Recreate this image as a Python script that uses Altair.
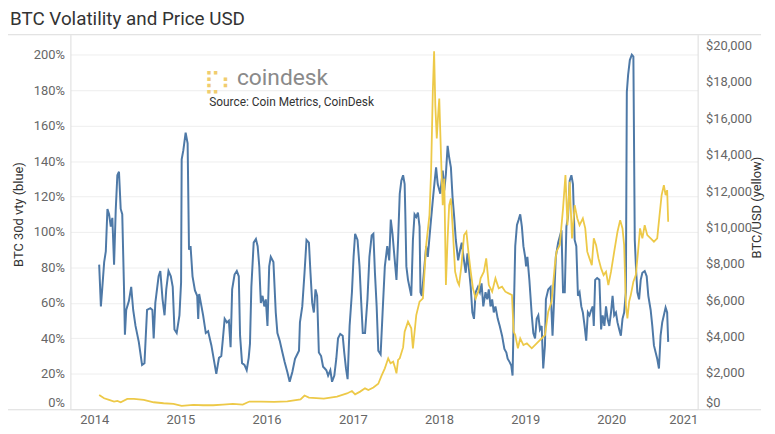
import altair as alt
import pandas as pd

# ---- data (decimal years) ----
vol_years = [2014.057, 2014.077, 2014.092, 2014.115, 2014.134, 2014.153, 2014.172, 2014.192, 2014.210, 2014.230,
             2014.249, 2014.268, 2014.287, 2014.307, 2014.325, 2014.345, 2014.356, 2014.371, 2014.402, 2014.429,
             2014.452, 2014.479, 2014.517, 2014.555, 2014.583, 2014.613, 2014.652, 2014.675, 2014.690, 2014.709,
             2014.747, 2014.767, 2014.793, 2014.816, 2014.836, 2014.862, 2014.889, 2014.911, 2014.931, 2014.957,
             2014.989, 2015.008, 2015.015, 2015.034, 2015.061, 2015.084, 2015.100, 2015.118, 2015.141, 2015.169,
             2015.195, 2015.207, 2015.218, 2015.245, 2015.264, 2015.295, 2015.322, 2015.360, 2015.399, 2015.417,
             2015.448, 2015.475, 2015.494, 2015.514, 2015.540, 2015.563, 2015.583, 2015.601, 2015.629, 2015.655,
             2015.678, 2015.693, 2015.716, 2015.744, 2015.770, 2015.793, 2015.808, 2015.824, 2015.851, 2015.877,
             2015.897, 2015.916, 2015.934, 2015.954, 2015.974, 2015.992, 2016.011, 2016.031, 2016.049, 2016.080,
             2016.107, 2016.126, 2016.153, 2016.184, 2016.210, 2016.241, 2016.268, 2016.299, 2016.330, 2016.356,
             2016.376, 2016.387, 2016.414, 2016.440, 2016.463, 2016.491, 2016.509, 2016.529, 2016.548, 2016.567,
             2016.586, 2016.606, 2016.632, 2016.655, 2016.675, 2016.693, 2016.713, 2016.739, 2016.759, 2016.785,
             2016.808, 2016.828, 2016.854, 2016.882, 2016.900, 2016.920, 2016.939, 2016.962, 2016.989, 2017.008,
             2017.026, 2017.054, 2017.077, 2017.095, 2017.115, 2017.141, 2017.169, 2017.192, 2017.218, 2017.238,
             2017.256, 2017.276, 2017.295, 2017.322, 2017.345, 2017.371, 2017.399, 2017.422, 2017.440, 2017.460,
             2017.479, 2017.506, 2017.525, 2017.544, 2017.563, 2017.583, 2017.601, 2017.609, 2017.621, 2017.640,
             2017.659, 2017.678, 2017.697, 2017.716, 2017.736, 2017.755, 2017.774, 2017.785, 2017.801, 2017.824,
             2017.851, 2017.870, 2017.900, 2017.928, 2017.946, 2017.966, 2017.985, 2018.015, 2018.043, 2018.061,
             2018.080, 2018.100, 2018.118, 2018.138, 2018.157, 2018.176, 2018.195, 2018.222, 2018.245, 2018.264,
             2018.284, 2018.310, 2018.330, 2018.348, 2018.368, 2018.387, 2018.406, 2018.425, 2018.452, 2018.475,
             2018.494, 2018.514, 2018.540, 2018.560, 2018.578, 2018.598, 2018.617, 2018.636, 2018.655, 2018.682,
             2018.705, 2018.732, 2018.759, 2018.782, 2018.797, 2018.820, 2018.839, 2018.854, 2018.866, 2018.885,
             2018.905, 2018.923, 2018.943, 2018.962, 2018.980, 2019.000, 2019.011, 2019.026, 2019.049, 2019.077,
             2019.095, 2019.115, 2019.134, 2019.153, 2019.172, 2019.192, 2019.210, 2019.230, 2019.241, 2019.268,
             2019.295, 2019.318, 2019.333, 2019.356, 2019.383, 2019.422, 2019.440, 2019.460, 2019.479, 2019.498,
             2019.517, 2019.537, 2019.555, 2019.575, 2019.594, 2019.613, 2019.632, 2019.652, 2019.670, 2019.690,
             2019.709, 2019.728, 2019.747, 2019.767, 2019.785, 2019.797, 2019.813, 2019.836, 2019.862, 2019.882,
             2019.900, 2019.920, 2019.939, 2019.957, 2019.977, 2019.997, 2020.015, 2020.034, 2020.054, 2020.072,
             2020.092, 2020.111, 2020.130, 2020.149, 2020.169, 2020.180, 2020.195, 2020.215, 2020.238, 2020.256,
             2020.272, 2020.287, 2020.302, 2020.322, 2020.341, 2020.360, 2020.387, 2020.410, 2020.429, 2020.456,
             2020.475, 2020.494, 2020.514, 2020.532, 2020.552, 2020.571, 2020.590, 2020.609, 2020.629, 2020.647,
             2020.659]
vol_pct = [81.6, 58, 67.6, 83, 89, 113, 110, 103, 108, 81.6,
           112, 132, 134, 113, 110, 69, 42, 56, 61, 69,
           56, 47, 38, 25, 26, 56, 57, 56, 40, 60,
           75, 78, 62, 53, 67.6, 78, 75, 69, 45, 43,
           53, 71.5, 141, 146, 156, 150, 90, 92, 75, 67,
           64, 51, 65, 58, 53, 43, 44, 36, 25, 20,
           29, 30, 40, 51, 49, 50, 35, 67.6, 76, 78,
           75, 41.5, 26, 25, 22, 29, 37, 69, 94, 96,
           92, 80.6, 60, 64, 58, 62, 47, 80.6, 86, 83,
           54.6, 43, 38.7, 32, 26.6, 21, 15.5, 21, 28.5, 31,
           33, 49, 58, 77, 95.5, 94, 77, 60, 54.6, 67.6,
           64, 32, 30, 24, 23, 22, 19, 22, 15.5, 19,
           28.5, 40, 42.5, 41.5, 32, 23, 17, 47, 66, 86,
           99, 95.5, 80.6, 62, 43, 43, 62, 86, 98, 99,
           77, 58, 33, 31, 54.6, 80.6, 92, 84, 107, 99,
           88, 73, 95.5, 121.6, 129, 132, 127, 110, 80.6, 73,
           68.5, 64, 95.5, 110, 108.5, 111, 103, 66, 64, 77,
           92, 86, 103, 118, 127, 136.5, 127, 121.6, 134.6, 123.5,
           132.8, 148.6, 142, 136.5, 119.7, 108.5, 95.5, 84, 90, 94,
           86, 77, 88, 79, 69, 54.6, 51, 66, 69, 66,
           71, 58, 66, 62, 67.6, 58, 62, 54.6, 58, 51,
           47, 41.5, 34, 32, 28.5, 26.6, 24.7, 19, 49, 92,
           104, 106.7, 110, 103, 92, 86, 80.6, 86, 73, 53,
           43, 40, 51, 53, 45, 47, 23, 36, 62, 67.6,
           69, 41.5, 58, 86, 94, 101, 66, 66, 103, 108.5,
           129, 132, 127, 95.5, 92, 64, 66, 58, 54.6, 47,
           38.7, 54.6, 53, 56, 58, 47, 73, 74, 73, 45,
           53, 47, 58, 51, 47, 54.6, 64, 53, 54.6, 49,
           45, 41.5, 51, 54.6, 66, 179, 188.6, 197, 200, 199,
           95.5, 79, 66, 62, 73, 77, 78, 75, 64, 56,
           47, 36, 32, 28.5, 23, 41.5, 49, 53, 57.4, 54.6,
           38]

price_years = [2014.057, 2014.115, 2014.172, 2014.230, 2014.268, 2014.307, 2014.383, 2014.460, 2014.575, 2014.690,
               2014.805, 2014.920, 2015.015, 2015.149, 2015.264, 2015.379, 2015.494, 2015.609, 2015.724, 2015.801,
               2015.934, 2016.088, 2016.241, 2016.394, 2016.440, 2016.491, 2016.663, 2016.816, 2016.931, 2016.989,
               2017.026, 2017.084, 2017.141, 2017.180, 2017.238, 2017.295, 2017.333, 2017.371, 2017.410, 2017.437,
               2017.468, 2017.486, 2017.506, 2017.525, 2017.544, 2017.583, 2017.601, 2017.640, 2017.678, 2017.697,
               2017.736, 2017.774, 2017.813, 2017.851, 2017.889, 2017.908, 2017.928, 2017.943, 2017.957, 2017.974,
               2017.992, 2018.003, 2018.023, 2018.043, 2018.061, 2018.080, 2018.100, 2018.118, 2018.138, 2018.157,
               2018.187, 2018.215, 2018.233, 2018.261, 2018.291, 2018.318, 2018.341, 2018.368, 2018.394, 2018.425,
               2018.456, 2018.483, 2018.521, 2018.548, 2018.578, 2018.617, 2018.655, 2018.693, 2018.732, 2018.770,
               2018.808, 2018.847, 2018.866, 2018.885, 2018.916, 2018.943, 2018.980, 2019.020, 2019.077, 2019.134,
               2019.192, 2019.230, 2019.268, 2019.307, 2019.345, 2019.364, 2019.402, 2019.440, 2019.468, 2019.491,
               2019.517, 2019.544, 2019.575, 2019.606, 2019.632, 2019.670, 2019.698, 2019.721, 2019.747, 2019.774,
               2019.797, 2019.824, 2019.851, 2019.882, 2019.911, 2019.939, 2019.966, 2019.997, 2020.034, 2020.072,
               2020.103, 2020.130, 2020.149, 2020.169, 2020.187, 2020.207, 2020.226, 2020.256, 2020.284, 2020.310,
               2020.333, 2020.360, 2020.387, 2020.417, 2020.456, 2020.494, 2020.532, 2020.559, 2020.583, 2020.609,
               2020.629, 2020.647, 2020.659]
price_usd = [786, 604, 511, 423, 456, 385, 566, 566, 520, 385,
             330, 300, 181, 236, 220, 220, 258, 291, 260, 423,
             423, 400, 430, 540, 753, 640, 580, 700, 870, 1000,
             820, 970, 1150, 1060, 1200, 1400, 1850, 2250, 2800, 2527,
             2619, 2344, 1978, 2710, 2800, 3400, 4270, 4819, 4451, 3352,
             5182, 5918, 6100, 9028, 10677, 13062, 17458, 19689, 16722, 14892,
             16359, 17089, 13974, 11226, 12693, 6830, 9396, 11226, 11594, 10127,
             7566, 7017, 6830, 7929, 9578, 9765, 8666, 7566, 6649, 6100,
             6467, 7199, 7566, 8298, 6830, 6467, 7199, 6649, 6741, 6467,
             6374, 6281, 4270, 4083, 3352, 3901, 3533, 3627, 3352, 3627,
             3901, 4083, 5366, 5918, 7929, 8666, 9028, 11045, 12875, 10127,
             12512, 9396, 11226, 10495, 10127, 10495, 9946, 8666, 8298, 7929,
             9396, 9028, 8298, 7748, 7380, 7566, 6830, 7566, 8666, 9765,
             10402, 9946, 9028, 5731, 5000, 5918, 6281, 7017, 7380, 8666,
             9946, 9396, 10127, 9578, 9396, 9215, 9396, 10677, 11776, 12326,
             11776, 12051, 10316]

year_ticks = [2014, 2015, 2016, 2017, 2018, 2019, 2020, 2021]
vol_ticks = [0, 0.2, 0.4, 0.6, 0.8, 1.0, 1.2, 1.4, 1.6, 1.8, 2.0]
price_ticks = [0, 2000, 4000, 6000, 8000, 10000, 12000, 14000, 16000, 18000, 20000]


def to_date(y):
    yr = int(y)
    start = pd.Timestamp(yr, 1, 1)
    end = pd.Timestamp(yr + 1, 1, 1)
    return (start + (end - start) * (y - yr)).strftime("%Y-%m-%dT%H:%M:%S")


vol_df = pd.DataFrame({"date": [to_date(y) for y in vol_years],
                       "vol": [v / 100 for v in vol_pct]})
price_df = pd.DataFrame({"date": [to_date(y) for y in price_years],
                         "price": price_usd})

FONT = "Roboto"
W, H = 633, 378

x_scale = alt.Scale(domain=[alt.DateTime(year=2013, month=9, date=22),
                            alt.DateTime(year=2021, month=1, date=1)], nice=False)
x_axis = alt.Axis(values=[alt.DateTime(year=y, month=1, date=1) for y in year_ticks],
                  format="%Y", title=None, grid=False, domain=False, ticks=False,
                  labelPadding=4, labelFlush=True, labelColor="#666666", labelFontSize=13)

blue = alt.Chart(vol_df).mark_line(color="#4e79a7", strokeWidth=2).encode(
    x=alt.X("date:T", scale=x_scale, axis=x_axis),
    y=alt.Y("vol:Q", scale=alt.Scale(domain=[0, 2.113], nice=False),
            axis=alt.Axis(orient="left", values=vol_ticks, format=".0%",
                          grid=True, gridColor="#eeeeee", domain=True, domainColor="#dcdcdc",
                          ticks=False, labelPadding=6, labelFlush=True,
                          labelColor="#666666", labelFontSize=13,
                          title="BTC 30d vty (blue)", titleFontSize=13, titleFontWeight="normal",
                          titleColor="#333333", titleAngle=270, titleX=-52, titleY=181,
                          titleAlign="center", titleBaseline="middle"))
)

yellow = alt.Chart(price_df).mark_line(color="#edc948", strokeWidth=1.8).encode(
    x=alt.X("date:T", scale=x_scale, axis=x_axis),
    y=alt.Y("price:Q", scale=alt.Scale(domain=[0, 20600], nice=False),
            axis=alt.Axis(orient="right", values=price_ticks, format="$,.0f",
                          grid=False, domain=True, domainColor="#dcdcdc",
                          ticks=False, labelPadding=8, labelFlush=True,
                          labelColor="#666666", labelFontSize=13,
                          title="BTC/USD (yellow)", titleFontSize=13, titleFontWeight="normal",
                          titleColor="#333333", titleAngle=270, titleX=59, titleY=174,
                          titleAlign="center", titleBaseline="middle"))
)

one = alt.Data(values=[{}])
top_rule = alt.Chart(one).mark_rule(color="#dcdcdc", strokeWidth=1).encode(
    x=alt.value(-63), x2=alt.value(W + 64), y=alt.value(0))
bottom_rule = alt.Chart(one).mark_rule(color="#dcdcdc", strokeWidth=1).encode(
    x=alt.value(-63), x2=alt.value(W + 64), y=alt.value(H + 0.5))

title_text = alt.Chart(one).mark_text(text="BTC Volatility and Price USD", font=FONT, fontSize=19,
                                      color="#333333", align="left", baseline="alphabetic").encode(
    x=alt.value(-61), y=alt.value(-9.5))
logo_icon = alt.Chart(one).mark_text(text="\u28cf\u2806", font="DejaVu Sans", fontSize=23,
                                     color="#f0cd6e", align="left", baseline="alphabetic").encode(
    x=alt.value(135), y=alt.value(55))
logo_text = alt.Chart(one).mark_text(text="coindesk", font=FONT, fontSize=23,
                                     color="#8a8a8a", align="left", baseline="alphabetic").encode(
    x=alt.value(168), y=alt.value(51))
source_text = alt.Chart(one).mark_text(text="Source: Coin Metrics, CoinDesk", font=FONT, fontSize=12,
                                       color="#333333", align="left", baseline="alphabetic").encode(
    x=alt.value(140), y=alt.value(72))

chart = alt.layer(
    top_rule, bottom_rule, blue, yellow, title_text, logo_icon, logo_text, source_text
).resolve_scale(y="independent").properties(
    width=W, height=H,
    padding={"left": 63, "top": 25, "right": 70, "bottom": 20},
    autosize=alt.AutoSizeParams(type="none"),
).configure_view(stroke=None).configure_axis(labelFont=FONT, titleFont=FONT)

chart.save("out.html", embed_options={"renderer": "svg", "actions": False})
